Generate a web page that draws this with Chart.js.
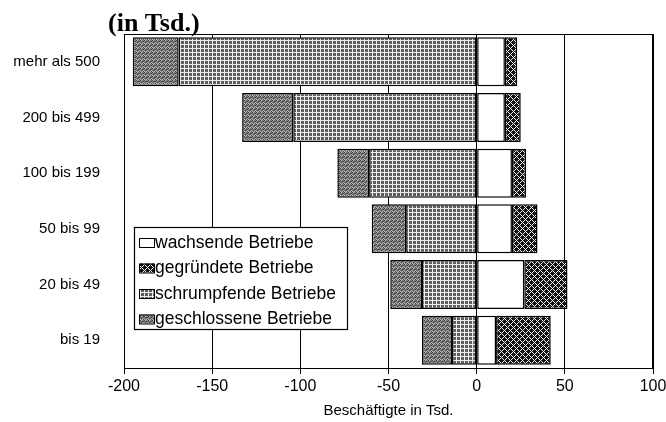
<!DOCTYPE html>
<html lang="de">
<head>
  <meta charset="UTF-8">
  <title>Beschäftigte nach Betriebsgröße</title>
  <script src="https://cdn.jsdelivr.net/npm/chart.js"></script>
  <style>
    body { margin: 0; background: #fff; }
    #wrap { width: 666px; height: 422px; position: relative; }
  </style>
</head>
<body>
  <div id="wrap"><canvas id="chart" width="666" height="422"></canvas></div>

  <script>
    // Betriebsgrößenklassen (Beschäftigte)
    const categories = ['mehr als 500', '200 bis 499', '100 bis 199', '50 bis 99', '20 bis 49', 'bis 19'];
    const wachsende = [16, 16, 20, 20, 27, 11];
    const gegruendete = [7, 9, 8, 14.5, 24.5, 31];
    const schrumpfende = [-169, -104, -61, -40, -31, -14];
    const geschlossene = [-26, -29, -18, -19.5, -18, -17];
    const xTicks = [-200, -150, -100, -50, 0, 50, 100];

    const font = "Arial, 'Liberation Sans', sans-serif";

    // small tile patterns to mimic the printed hatching
    function makePattern(size, draw) {
      const c = document.createElement('canvas');
      c.width = size; c.height = size;
      const g = c.getContext('2d');
      draw(g, size);
      return g.createPattern(c, 'repeat');
    }

    const patWhite = '#ffffff';
    const patCross = makePattern(6, (g, s) => {
      g.fillStyle = '#111';
      g.fillRect(0, 0, s, s);
      g.fillStyle = '#f4f4f4';
      for (let x = 0; x < s; x++) {
        for (let y = 0; y < s; y++) {
          if ((x + y) % s === 0 || (x - y + s) % s === 0) g.fillRect(x, y, 1, 1);
        }
      }
    });
    const patGrid = makePattern(4, (g, s) => {
      g.fillStyle = '#5e5e5e';
      g.fillRect(0, 0, s, s);
      g.fillStyle = '#ececec';
      g.fillRect(0, 0, s, 1);
      g.fillRect(0, 0, 1, s);
    });
    const patSpeckle = makePattern(4, (g, s) => {
      g.fillStyle = '#7c7c7c';
      g.fillRect(0, 0, s, s);
      g.fillStyle = '#444';
      [[0, 0], [2, 1], [1, 2], [3, 3], [3, 1]].forEach(p => g.fillRect(p[0], p[1], 1, 1));
      g.fillStyle = '#b4b4b4';
      [[1, 0], [3, 2], [0, 3], [2, 3]].forEach(p => g.fillRect(p[0], p[1], 1, 1));
    });

    const frameAndLegend = {
      id: 'frameAndLegend',
      afterDraw(chart) {
        const ctx = chart.ctx;
        const a = chart.chartArea;
        ctx.save();
        // frame
        ctx.strokeStyle = '#000';
        ctx.lineWidth = 1;
        ctx.strokeRect(a.left + 0.5, a.top + 0.5, a.right - a.left - 1, a.bottom - a.top);

        // title top left
        ctx.fillStyle = '#000';
        ctx.font = "bold 26px 'Liberation Serif', 'Times New Roman', serif";
        ctx.textBaseline = 'alphabetic';
        ctx.fillText('(in Tsd.)', 108, 31);

        // legend box inside the plot
        const lx = a.left + 10, ly = a.top + 193, lw = 213, lh = 102;
        ctx.fillStyle = '#fff';
        ctx.fillRect(lx, ly, lw, lh);
        ctx.strokeStyle = '#000';
        ctx.lineWidth = 1.2;
        ctx.strokeRect(lx + 0.5, ly + 0.5, lw, lh);
        ctx.font = '17.5px ' + font;
        ctx.textBaseline = 'middle';
        chart.data.datasets.forEach((ds, i) => {
          const cy = ly + 15 + i * 25.5;
          ctx.fillStyle = ds.backgroundColor;
          ctx.fillRect(lx + 5, cy - 4, 15, 9);
          ctx.lineWidth = 1;
          ctx.strokeRect(lx + 5.5, cy - 3.5, 15, 9);
          ctx.fillStyle = '#000';
          ctx.fillText(ds.label, lx + 21, cy + 1);
        });
        ctx.restore();
      }
    };

    new Chart(document.getElementById('chart'), {
      type: 'bar',
      data: {
        labels: categories,
        datasets: [
          { label: 'wachsende Betriebe', data: wachsende, backgroundColor: patWhite },
          { label: 'gegründete Betriebe', data: gegruendete, backgroundColor: patCross },
          { label: 'schrumpfende Betriebe', data: schrumpfende, backgroundColor: patGrid },
          { label: 'geschlossene Betriebe', data: geschlossene, backgroundColor: patSpeckle }
        ]
      },
      options: {
        indexAxis: 'y',
        responsive: false,
        animation: false,
        layout: { padding: { top: 34, right: 13, left: 0, bottom: 0 } },
        datasets: {
          bar: {
            borderColor: '#000',
            borderWidth: 1.5,
            borderSkipped: false,
            barPercentage: 0.88,
            categoryPercentage: 1
          }
        },
        plugins: {
          legend: { display: false },
          tooltip: { enabled: false }
        },
        scales: {
          x: {
            stacked: true,
            min: -200,
            max: 100,
            afterBuildTicks: s => { s.ticks = xTicks.map(v => ({ value: v })); },
            afterFit: s => { s.height = 54; s.paddingLeft = 0; s.paddingRight = 0; },
            grid: { color: '#000', lineWidth: 1, tickLength: 6 },
            border: { color: '#000', width: 1 },
            ticks: { color: '#000', font: { family: font, size: 16 }, padding: 3, maxRotation: 0 },
            title: {
              display: true,
              text: 'Beschäftigte in Tsd.',
              color: '#000',
              font: { family: font, size: 15 },
              padding: { top: 4, bottom: 2 }
            }
          },
          y: {
            stacked: true,
            afterFit: s => { s.width = 124; },
            grid: { display: false, drawTicks: false },
            border: { color: '#000', width: 1 },
            ticks: { color: '#000', font: { family: font, size: 15 }, padding: 24 }
          }
        }
      },
      plugins: [frameAndLegend]
    });
  </script>
</body>
</html>
